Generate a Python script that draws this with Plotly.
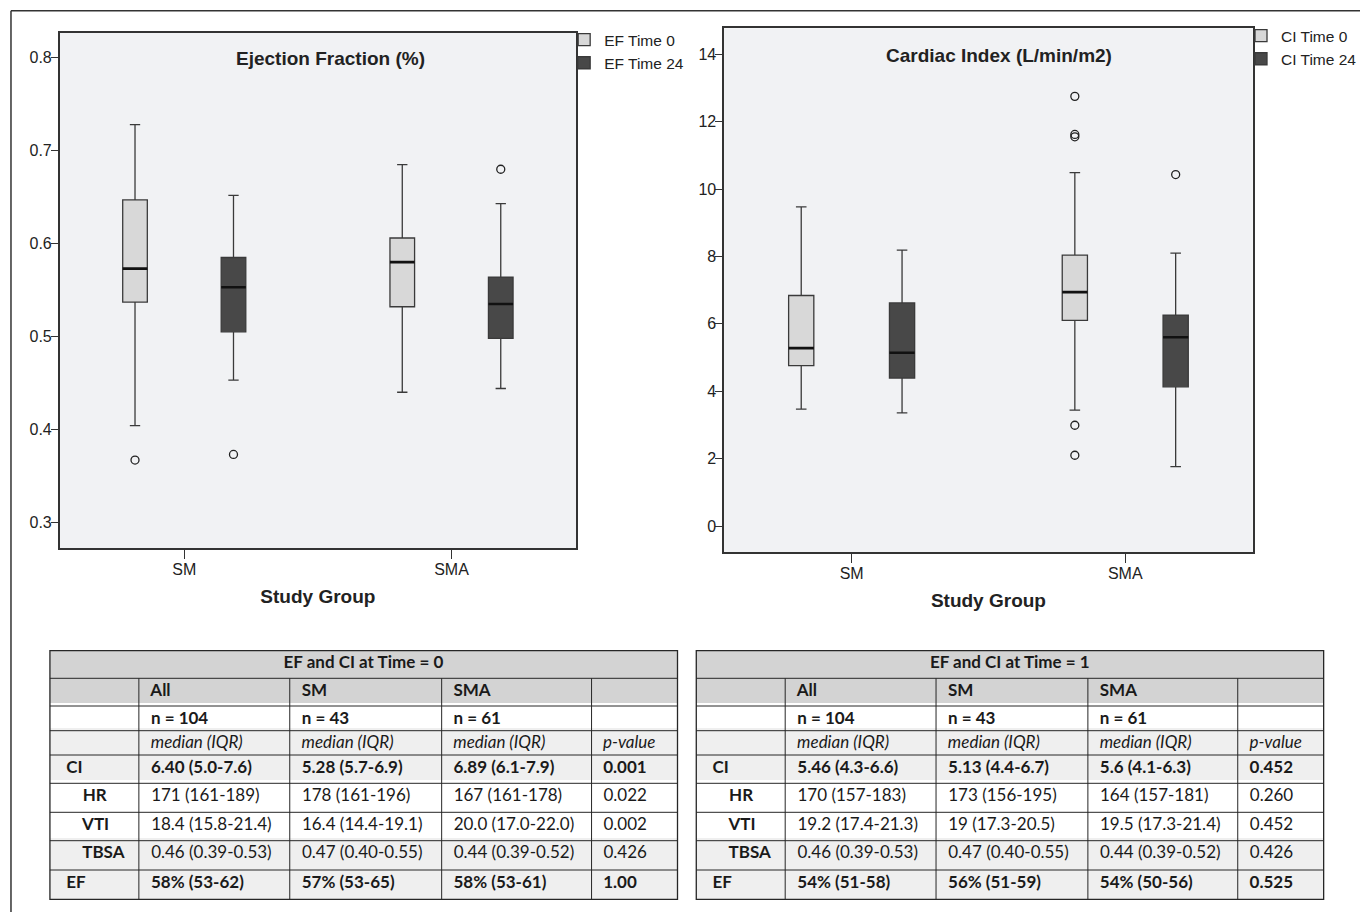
import plotly.graph_objects as go

# ---------------- data ----------------
groups = ["SM", "SMA"]

ef_t0_lower = [0.404, 0.440]
ef_t0_q1 = [0.537, 0.532]
ef_t0_median = [0.573, 0.580]
ef_t0_q3 = [0.647, 0.606]
ef_t0_upper = [0.728, 0.685]
ef_t0_out_x = ["SM"]
ef_t0_out_y = [0.367]

ef_t24_lower = [0.453, 0.444]
ef_t24_q1 = [0.505, 0.498]
ef_t24_median = [0.553, 0.535]
ef_t24_q3 = [0.585, 0.564]
ef_t24_upper = [0.652, 0.643]
ef_t24_out_x = ["SM", "SMA"]
ef_t24_out_y = [0.373, 0.680]

ci_t0_lower = [3.47, 3.44]
ci_t0_q1 = [4.76, 6.10]
ci_t0_median = [5.28, 6.94]
ci_t0_q3 = [6.84, 8.04]
ci_t0_upper = [9.47, 10.49]
ci_t0_out_x = ["SMA", "SMA", "SMA", "SMA", "SMA"]
ci_t0_out_y = [12.75, 11.62, 11.55, 2.99, 2.10]

ci_t24_lower = [3.36, 1.76]
ci_t24_q1 = [4.39, 4.13]
ci_t24_median = [5.14, 5.60]
ci_t24_q3 = [6.62, 6.26]
ci_t24_upper = [8.19, 8.10]
ci_t24_out_x = ["SMA"]
ci_t24_out_y = [10.43]

ef_ticks = [0.3, 0.4, 0.5, 0.6, 0.7, 0.8]
ci_ticks = [0, 2, 4, 6, 8, 10, 12, 14]

# table data
col_heads = ["", "All", "SM", "SMA", ""]
n_row = ["", "n = 104", "n = 43", "n = 61", ""]
stat_row = ["", "median (IQR)", "median (IQR)", "median (IQR)", "p-value"]
row_labels = ["CI", "HR", "VTI", "TBSA", "EF"]
row_bold = [True, False, False, False, True]
row_indent = [False, True, True, True, False]

t0_title = "EF and CI at Time = 0"
t0_all = ["6.40 (5.0-7.6)", "171 (161-189)", "18.4 (15.8-21.4)", "0.46 (0.39-0.53)", "58% (53-62)"]
t0_sm = ["5.28 (5.7-6.9)", "178 (161-196)", "16.4 (14.4-19.1)", "0.47 (0.40-0.55)", "57% (53-65)"]
t0_sma = ["6.89 (6.1-7.9)", "167 (161-178)", "20.0 (17.0-22.0)", "0.44 (0.39-0.52)", "58% (53-61)"]
t0_p = ["0.001", "0.022", "0.002", "0.426", "1.00"]

t1_title = "EF and CI at Time = 1"
t1_all = ["5.46 (4.3-6.6)", "170 (157-183)", "19.2 (17.4-21.3)", "0.46 (0.39-0.53)", "54% (51-58)"]
t1_sm = ["5.13 (4.4-6.7)", "173 (156-195)", "19 (17.3-20.5)", "0.47 (0.40-0.55)", "56% (51-59)"]
t1_sma = ["5.6 (4.1-6.3)", "164 (157-181)", "19.5 (17.3-21.4)", "0.44 (0.39-0.52)", "54% (50-56)"]
t1_p = ["0.452", "0.260", "0.452", "0.426", "0.525"]

# ---------------- style ----------------
W, H = 1362, 912
LIGHT = "#d8d8d8"
DARK = "#484848"
EDGE = "#3a3a3a"
PLOT_BG = "#f1f2f4"
AX_FONT = "Liberation Sans, Arial, sans-serif"
TB_FONT = "Lato, Open Sans, sans-serif"
TB_SIZE = 17
BOXGAP = 0.263
BOXGROUPGAP = 0.75


def px_x(v):
    return v / W


def px_y(v):
    return 1 - v / H


fig = go.Figure()


def add_series(name, lower, q1, med, q3, upper, ox, oy, fill, group, xa, ya, legend):
    fig.add_trace(go.Box(
        x=groups, q1=q1, median=med, q3=q3, lowerfence=lower, upperfence=upper,
        name=name, fillcolor=fill, line=dict(color=EDGE, width=1.3),
        whiskerwidth=0.42, offsetgroup=group, boxpoints=False,
        xaxis=xa, yaxis=ya, legend=legend, hoverinfo="y"))
    # emphasised median line
    fig.add_trace(go.Box(
        x=groups, q1=med, median=med, q3=med, lowerfence=med, upperfence=med,
        fillcolor="rgba(0,0,0,0)", line=dict(color="#111111", width=2.6),
        whiskerwidth=0, offsetgroup=group, boxpoints=False, showlegend=False,
        xaxis=xa, yaxis=ya, hoverinfo="skip"))
    fig.add_trace(go.Scatter(
        x=ox, y=oy, mode="markers", offsetgroup=group, showlegend=False,
        marker=dict(symbol="circle-open", size=8, color="#222222", line=dict(width=1.3)),
        xaxis=xa, yaxis=ya))


add_series("EF Time 0", ef_t0_lower, ef_t0_q1, ef_t0_median, ef_t0_q3, ef_t0_upper,
           ef_t0_out_x, ef_t0_out_y, LIGHT, "t0", "x", "y", "legend")
add_series("EF Time 24", ef_t24_lower, ef_t24_q1, ef_t24_median, ef_t24_q3, ef_t24_upper,
           ef_t24_out_x, ef_t24_out_y, DARK, "t24", "x", "y", "legend")
add_series("CI Time 0", ci_t0_lower, ci_t0_q1, ci_t0_median, ci_t0_q3, ci_t0_upper,
           ci_t0_out_x, ci_t0_out_y, LIGHT, "t0", "x2", "y2", "legend2")
add_series("CI Time 24", ci_t24_lower, ci_t24_q1, ci_t24_median, ci_t24_q3, ci_t24_upper,
           ci_t24_out_x, ci_t24_out_y, DARK, "t24", "x2", "y2", "legend2")


# ---------------- tables (one table trace per row) ----------------
NB = "\u00a0"
HEAD_FILL = "#d3d3d3"
LIGHT_ROW = "#efefef"
WHITE = "#ffffff"
COLW = [89, 151, 152, 150, 86]
ROW_EDGES = [650.7, 678.3, 706.0, 730.7, 755.0, 783.3, 812.3, 840.7, 870.0, 899.3]
BODY_FILLS = [LIGHT_ROW, WHITE, WHITE, LIGHT_ROW, LIGHT_ROW]
GRID = "#262626"
LIFT = 3  # shifts the text of every row slightly upward
shapes = []


def table_row(x0, x1, top, bottom, values, fill, align, weights, styles, widths=None):
    kw = {}
    if widths is not None:
        kw["columnwidth"] = widths
    fig.add_trace(go.Table(
        domain=dict(x=[px_x(x0), px_x(x1)], y=[px_y(bottom), px_y(top - LIFT)]),
        header=dict(values=values, fill_color=fill, line=dict(width=0, color=fill),
                    align=align, height=bottom - top + LIFT,
                    font=dict(family=TB_FONT, size=TB_SIZE, color="#1a1a1a",
                              weight=weights, style=styles)),
        cells=dict(values=[[] for _ in values]),
        **kw))


def build_table(x0, x1, title, c_all, c_sm, c_sma, c_p):
    e = ROW_EDGES
    n = len(col_heads)
    table_row(x0, x1, e[0], e[1], [title], HEAD_FILL, "center", ["bold"], ["normal"])
    table_row(x0, x1, e[1], e[2], [(NB + h) if h else "" for h in col_heads],
              HEAD_FILL, "left", ["bold"] * n, ["normal"] * n, COLW)
    table_row(x0, x1, e[2], e[3], [(NB + v) if v else "" for v in n_row],
              WHITE, "left", ["bold"] * n, ["normal"] * n, COLW)
    table_row(x0, x1, e[3], e[4], [(NB + v) if v else "" for v in stat_row],
              LIGHT_ROW, "left", ["normal"] * n, ["italic"] * n, COLW)
    for i, lab in enumerate(row_labels):
        pad = NB * (6 if row_indent[i] else 2)
        vals = [pad + lab] + [NB + col[i] for col in (c_all, c_sm, c_sma, c_p)]
        w = ["bold"] + (["bold"] * 4 if row_bold[i] else ["normal"] * 4)
        table_row(x0, x1, e[4 + i], e[5 + i], vals, BODY_FILLS[i], "left", w,
                  ["normal"] * n, COLW)
    # grid lines of the table
    shapes.append(dict(type="rect", xref="paper", yref="paper", x0=px_x(x0 - 1), x1=px_x(x1 + 1),
                       y0=px_y(e[0] - 0.8), y1=px_y(e[0] - LIFT - 2), fillcolor="white",
                       line=dict(width=0), layer="above"))
    for yy in e[1:-1]:
        shapes.append(dict(type="line", xref="paper", yref="paper", x0=px_x(x0), x1=px_x(x1),
                           y0=px_y(yy), y1=px_y(yy), line=dict(color=GRID, width=1),
                           layer="above"))
    total = sum(COLW)
    xx = x0
    for wdt in COLW[:-1]:
        xx += (x1 - x0) * wdt / total
        shapes.append(dict(type="line", xref="paper", yref="paper", x0=px_x(xx), x1=px_x(xx),
                           y0=px_y(e[1]), y1=px_y(e[-1]), line=dict(color=GRID, width=1),
                           layer="above"))
    shapes.append(dict(type="rect", xref="paper", yref="paper", x0=px_x(x0), x1=px_x(x1),
                       y0=px_y(e[-1]), y1=px_y(e[0]), line=dict(color=GRID, width=1.3),
                       fillcolor="rgba(0,0,0,0)", layer="above"))


build_table(50, 678.5, t0_title, t0_all, t0_sm, t0_sma, t0_p)
build_table(697.3, 1325.6, t1_title, t1_all, t1_sm, t1_sma, t1_p)

# outer frame of the figure
shapes.append(dict(type="line", xref="paper", yref="paper", x0=px_x(11), x1=1, y0=px_y(10.7),
                   y1=px_y(10.7), line=dict(color="#333333", width=1.5)))
shapes.append(dict(type="line", xref="paper", yref="paper", x0=px_x(11), x1=px_x(11), y0=0,
                   y1=px_y(10.7), line=dict(color="#333333", width=1.5)))

# ---------------- layout ----------------
axis_common = dict(showline=True, mirror=True, linecolor="#333333", linewidth=1.5,
                   showgrid=False, zeroline=False, ticks="outside", tickcolor="#333333",
                   tickfont=dict(family=AX_FONT, size=16, color="#222222"))
xtitle = dict(text="<b>Study Group</b>", standoff=12,
              font=dict(family=AX_FONT, size=19, color="#222222"))
legend_font = dict(family=AX_FONT, size=15.5, color="#222222")

fig.update_layout(
    width=W, height=H,
    margin=dict(l=0, r=0, t=0, b=0),
    paper_bgcolor="white",
    plot_bgcolor=PLOT_BG,
    boxmode="group", boxgap=BOXGAP, boxgroupgap=BOXGROUPGAP,
    scattermode="group", scattergap=BOXGAP,
    xaxis=dict(domain=[px_x(59.8), px_x(576.9)], anchor="y", type="category",
               categoryorder="array", categoryarray=groups, range=[-0.466, 1.466],
               ticklen=9, ticklabelstandoff=-3, title=xtitle, **axis_common),
    yaxis=dict(domain=[px_y(548.3), px_y(32.7)], anchor="x", range=[0.272, 0.827],
               tickvals=ef_ticks, tickformat=".1f", ticklen=7, ticklabelstandoff=-4,
               **axis_common),
    xaxis2=dict(domain=[px_x(725.2), px_x(1254.6)], anchor="y2", type="category",
                categoryorder="array", categoryarray=groups, range=[-0.466, 1.466],
                ticklen=9, ticklabelstandoff=-3, title=xtitle, **axis_common),
    yaxis2=dict(domain=[px_y(552.3), px_y(28.3)], anchor="x2", range=[-0.78, 14.77],
                tickvals=ci_ticks, ticklen=7, ticklabelstandoff=-4, **axis_common),
    legend=dict(x=px_x(565), y=px_y(23), xanchor="left", yanchor="top",
                bgcolor="rgba(0,0,0,0)", tracegroupgap=0, font=legend_font),
    legend2=dict(x=px_x(1243), y=px_y(19), xanchor="left", yanchor="top",
                 bgcolor="rgba(0,0,0,0)", tracegroupgap=0, font=legend_font),
    annotations=[
        dict(text="<b>Ejection Fraction (%)</b>", x=px_x(331), y=px_y(58), xref="paper",
             yref="paper", showarrow=False, xanchor="center", yanchor="middle",
             font=dict(family=AX_FONT, size=19, color="#222222")),
        dict(text="<b>Cardiac Index (L/min/m2)</b>", x=px_x(1000), y=px_y(55), xref="paper",
             yref="paper", showarrow=False, xanchor="center", yanchor="middle",
             font=dict(family=AX_FONT, size=19, color="#222222")),
    ],
    shapes=shapes,
)

fig.write_html("out.html", config={"displayModeBar": False},
               post_script="document.body.style.margin='0';")
